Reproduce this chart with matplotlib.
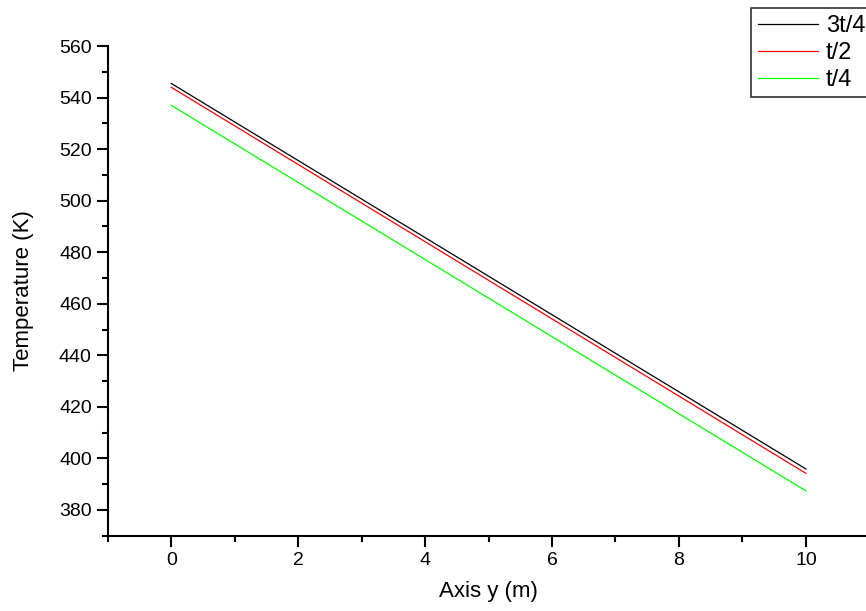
import matplotlib
matplotlib.use('Agg')
import matplotlib.pyplot as plt
from matplotlib.ticker import MultipleLocator

plt.rcParams['font.family'] = ['Liberation Sans', 'DejaVu Sans']

# Данные: температура вдоль оси y для трёх моментов времени
y_pos = [0, 10]
temp_3t4 = [545.5, 395.9]
temp_t2 = [544.0, 394.2]
temp_t4 = [537.0, 387.4]
labels = ['3t/4', 't/2', 't/4']
colors = ['black', 'red', '#00ff00']

fig = plt.figure(figsize=(8.66, 6.11), dpi=100)
ax = fig.add_axes([0.1244, 0.1232, 0.8795, 0.8015])

for vals, lab, col in zip([temp_3t4, temp_t2, temp_t4], labels, colors):
    ax.plot(y_pos, vals, color=col, linewidth=0.9, label=lab)

ax.set_xlim(-1, 11)
ax.set_ylim(370, 560)
ax.xaxis.set_major_locator(MultipleLocator(2))
ax.xaxis.set_minor_locator(MultipleLocator(1))
ax.yaxis.set_major_locator(MultipleLocator(20))
ax.yaxis.set_minor_locator(MultipleLocator(10))

ax.spines['top'].set_visible(False)
ax.spines['right'].set_visible(False)
ax.spines['left'].set_linewidth(1.5)
ax.spines['bottom'].set_linewidth(1.5)
ax.tick_params(which='major', direction='out', length=8, width=1.5, labelsize=14)
ax.tick_params(which='minor', direction='out', length=4, width=1.5)

ax.set_xlabel('Axis y (m)', fontsize=16, labelpad=9)
ax.set_ylabel('Temperature (K)', fontsize=16, labelpad=18)

leg = fig.legend(loc='upper left', bbox_to_anchor=(751 / 866, 1 - 8.3 / 611),
                 fontsize=17, frameon=True, fancybox=False, edgecolor='black',
                 handlelength=2.54, handletextpad=0.35, borderaxespad=0,
                 borderpad=0.28, labelspacing=0.21)
leg.get_frame().set_linewidth(1.2)

plt.savefig('out.png', dpi=100)
